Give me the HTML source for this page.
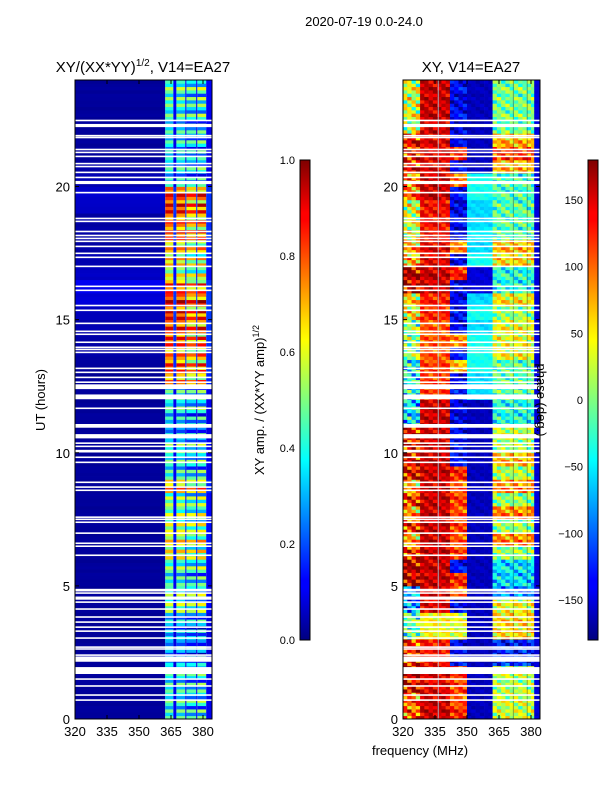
<!DOCTYPE html>
<html><head><meta charset="utf-8"><style>
html,body{margin:0;padding:0;background:#fff;}
svg{display:block;font-family:"Liberation Sans","DejaVu Sans",sans-serif;}
</style></head><body>
<svg id="fig" width="600" height="800" viewBox="0 0 600 800" xmlns="http://www.w3.org/2000/svg">
<defs>
<linearGradient id="jetg" x1="0" y1="1" x2="0" y2="0">
<stop offset="0" stop-color="#00007f"/><stop offset="0.11" stop-color="#0000ff"/><stop offset="0.125" stop-color="#0000ff"/>
<stop offset="0.34" stop-color="#00dcff"/><stop offset="0.375" stop-color="#00ffff"/><stop offset="0.5" stop-color="#7fff7f"/>
<stop offset="0.625" stop-color="#ffff00"/><stop offset="0.66" stop-color="#ffe000"/><stop offset="0.875" stop-color="#ff0000"/>
<stop offset="0.89" stop-color="#ff0000"/><stop offset="1" stop-color="#7f0000"/>
</linearGradient>
</defs>
<text x="364" y="26" font-size="13" text-anchor="middle">2020-07-19 0.0-24.0</text>
<text x="143" y="72" font-size="15" text-anchor="middle">XY/(XX*YY)<tspan font-size="10" dy="-6">1/2</tspan><tspan dy="6">, V14=EA27</tspan></text>
<text x="471" y="72" font-size="15" text-anchor="middle">XY, V14=EA27</text>
<g id="leftPlot"></g>
<g id="rightPlot"></g>
<g id="axes"></g>
<text transform="translate(45,400) rotate(-90)" font-size="13" text-anchor="middle">UT (hours)</text>
<text x="420" y="755" font-size="13" text-anchor="middle">frequency (MHz)</text>
<rect x="300" y="160" width="10" height="480" fill="url(#jetg)" stroke="#000" stroke-width="1"/>
<rect x="588" y="160" width="10" height="480" fill="url(#jetg)" stroke="#000" stroke-width="1"/>
<text transform="translate(264,400) rotate(-90)" font-size="13" text-anchor="middle">XY amp. / (XX*YY amp)<tspan font-size="9" dy="-5">1/2</tspan></text>
<text transform="translate(537,400) rotate(90)" font-size="13" text-anchor="middle">phase (deg.)</text>
</svg>
<script>
// ---- data ----
const flagHours=[22.48,22.29,21.91,21.84,21.39,21.28,21.13,20.86,20.75,20.53,20.34,20.15,19.77,18.80,18.69,18.31,18.16,18.05,17.94,17.75,17.49,17.34,17.00,16.25,16.10,15.53,15.35,14.86,14.56,14.45,14.15,13.96,13.88,13.77,13.17,13.02,12.83,12.65,12.48,12.10,11.67,11.01,10.62,10.36,10.24,10.06,9.83,9.64,8.89,8.71,8.59,7.58,7.50,7.39,6.98,6.60,6.49,6.15,4.84,4.73,4.54,4.39,4.13,3.83,3.64,3.45,3.30,3.04,2.70,2.63,2.40,2.25,1.82,1.50,1.24,0.90,0.71];
const flagWidths=[0.06,0.12,0.06,0.06,0.06,0.06,0.06,0.06,0.06,0.06,0.06,0.12,0.06,0.06,0.06,0.06,0.06,0.06,0.06,0.06,0.06,0.06,0.06,0.06,0.06,0.06,0.06,0.06,0.06,0.06,0.06,0.06,0.06,0.06,0.06,0.06,0.06,0.06,0.18,0.18,0.06,0.14,0.16,0.06,0.06,0.1,0.06,0.06,0.06,0.06,0.06,0.06,0.06,0.06,0.06,0.06,0.06,0.06,0.1,0.06,0.12,0.06,0.06,0.06,0.06,0.06,0.06,0.06,0.06,0.06,0.06,0.2,0.26,0.06,0.06,0.06,0.06];
// amplitude per 0.5h from 0h upward (48 values)
const ampHigh=[0.4,0.4,0.4,0.35,0.3,0.3,0.3,0.3,0.5,0.45,0.4,0.45,0.6,0.6,0.55,0.5,0.5,0.7,0.4,0.4,0.45,0.3,0.35,0.4,0.4,0.7,0.8,0.7,0.8,0.8,0.85,0.85,0.8,0.55,0.65,0.65,0.8,0.75,0.85,0.8,0.35,0.35,0.35,0.35,0.4,0.4,0.45,0.45];
const ampLow=[0.02,0.02,0.02,0.02,0.02,0.02,0.02,0.02,0.02,0.02,0.02,0.02,0.02,0.02,0.02,0.02,0.02,0.02,0.02,0.02,0.02,0.02,0.02,0.02,0.02,0.02,0.02,0.03,0.03,0.04,0.05,0.08,0.1,0.06,0.04,0.03,0.03,0.03,0.06,0.07,0.04,0.03,0.02,0.02,0.02,0.02,0.02,0.02];
const bandGain=[1.0,0.97,0.85,0.9];
const rowTexture=[0.08,-0.06,0.1,-0.12,0.03,0.12,-0.08,0.0];
const chanTexture=[0.5,-1,0.3,1,-0.6,0.2,-0.2,0.8];
// phase (deg) per 0.5h from 0h upward
const phaseLowA=[90,90,140,140,120,120,-20,-20,-100,-100,150,150,110,60,110,60,110,60,130,130,130,130,-60,-60,-50,-50,-50,-10,-10,-10,40,40,150,150,60,60,20,20,20,80,80,120,120,120,20,20,20,20];
const phaseLowB=[150,150,140,140,130,130,40,40,140,140,150,150,150,150,150,150,150,150,150,150,150,150,150,150,110,110,110,100,100,100,120,120,150,150,140,140,130,130,130,150,150,140,140,140,150,150,150,150];
const phaseLowC=[120,100,110,110,-140,-140,30,30,-150,90,120,-140,110,100,110,100,110,100,120,-140,-140,-140,-150,-150,-140,-150,60,-140,80,-150,-140,-150,-150,120,-150,80,-150,-140,-150,-140,90,-150,120,-150,-150,-140,-150,-140];
const phaseMid=[-160,-160,-160,-160,-160,-160,-160,-160,-160,-160,-160,-160,-160,-160,-160,-160,-160,-160,-160,-160,-160,-160,-160,-160,-60,-60,-40,-40,-40,-60,-40,-60,-150,-150,-40,-60,-50,-60,-60,-40,-40,-160,-160,-160,-160,-160,-160,-160];
const phaseHigh=[20,20,10,10,-130,-130,50,50,30,-100,-60,-60,0,80,0,80,0,80,10,60,10,20,-40,-40,-20,-20,-20,30,30,30,0,40,-40,-40,50,60,-20,-20,-20,-30,-30,60,110,60,-10,-10,-10,-10];
// ---- scales ----
const X0L=75,X0R=403,PXMHZ=(203-75)/60,F0=320,F1=384.2;
const YB=719,PXH=(719-80)/24;
function yOf(h){return YB-h*PXH;}
function xOf(base,f){return base+(f-F0)*PXMHZ;}
function clamp(v){return Math.max(0,Math.min(1,v));}
function jet(t){t=clamp(t);const r=clamp(1.5-Math.abs(4*t-3)),g=clamp(1.5-Math.abs(4*t-2)),b=clamp(1.5-Math.abs(4*t-1));return `rgb(${Math.round(r*255)},${Math.round(g*255)},${Math.round(b*255)})`;}
function phaseT(p){return (p+180)/360;}
const NS='http://www.w3.org/2000/svg';
function mk(tag,attrs,parent){const e=document.createElementNS(NS,tag);for(const k in attrs)e.setAttribute(k,attrs[k]);parent.appendChild(e);return e;}
const L=document.getElementById('leftPlot'),R=document.getElementById('rightPlot'),A=document.getElementById('axes');
const ROWH=0.125;
const leftBands=[[362.3,366.1],[367.5,371.7],[372.2,376.8],[377.3,381.5]];
const leftGaps=[[366.1,367.5],[371.7,372.2],[376.8,377.3],[381.5,F1]];
for(let r=0;r<192;r++){
  const h=r*ROWH,s=Math.floor(r/4),tx=rowTexture[r%8];
  const y=yOf(h+ROWH),hh=ROWH*PXH+0.4;
  let c=mk('rect',{x:xOf(X0L,F0),y:y,width:(362.3-F0)*PXMHZ,height:hh,fill:jet(ampLow[s]+Math.abs(tx)*0.1)},L);
  
  
  leftBands.forEach((b,i)=>{
    const v=ampHigh[s]*bandGain[i]+tx*(1+i*0.3);
    const e=mk('rect',{x:xOf(X0L,b[0]),y:y,width:(b[1]-b[0])*PXMHZ,height:hh,fill:jet(v)},L);
    
    
  });
  leftGaps.forEach(g=>{
    const e=mk('rect',{x:xOf(X0L,g[0]),y:y,width:(g[1]-g[0])*PXMHZ,height:hh,fill:jet(0.05+ampHigh[s]*0.15)},L);
    
    
  });
  const segs=[[F0,328,phaseLowA[s],60],[328,342,phaseLowB[s],25],[342,350,phaseLowC[s],30],[350,362,phaseMid[s],8],[362,381.5,phaseHigh[s],40],[381.5,F1,-150,5]];
  segs.forEach(sg=>{
    for(let f=sg[0],k=0;f<sg[1]-0.01;f+=2,k++){
      const f2=Math.min(sg[1],f+2);
      const ct=chanTexture[(k+r)%8];
      const e=mk('rect',{x:xOf(X0R,f),y:y,width:(f2-f)*PXMHZ+0.3,height:hh,fill:jet(phaseT(sg[2]+tx*sg[3]*3+ct*sg[3]))},R);
      
      
    }
  });
}
mk('rect',{x:xOf(X0R,336.3),y:80,width:1,height:639,fill:'#9fe8ff',opacity:0.7},R);
[371.5,378].forEach(f=>mk('rect',{x:xOf(X0R,f),y:80,width:1,height:639,fill:'#003',opacity:0.35},R));
flagHours.forEach((fh,i)=>{
  const w=flagWidths[i]*PXH;
  [X0L,X0R].forEach(x0=>{
    const e=mk('rect',{x:x0,y:yOf(fh)-w/2,width:137,height:w,fill:'#fff'},x0===X0L?L:R);
    
    
  });
});
const yTicks=[0,5,10,15,20],xTicks=[320,335,350,365,380];
[X0L,X0R].forEach((x0,pi)=>{
  const f=mk('rect',{x:x0,y:80,width:137,height:639,fill:'none',stroke:'#000','stroke-width':1},A);
  
  
  yTicks.forEach(t=>{
    const y=yOf(t);
    mk('line',{x1:x0,x2:x0+4,y1:y,y2:y,stroke:'#000'},A);
    mk('line',{x1:x0+133,x2:x0+137,y1:y,y2:y,stroke:'#000'},A);
    const tl=mk('text',{x:x0-5,y:y+5,'font-size':13,'text-anchor':'end'},A);tl.textContent=t;
    
    
  });
  xTicks.forEach(t=>{
    const x=xOf(x0,t);
    mk('line',{x1:x,x2:x,y1:719,y2:715,stroke:'#000'},A);
    mk('line',{x1:x,x2:x,y1:80,y2:84,stroke:'#000'},A);
    const tl=mk('text',{x:x,y:736,'font-size':13,'text-anchor':'middle'},A);tl.textContent=t;
    
    
  });
});
const ampTicks=[0,0.2,0.4,0.6,0.8,1.0];
ampTicks.forEach(t=>{
  const y=640-t*480;
  mk('line',{x1:300,x2:304,y1:y,y2:y,stroke:'#000'},A);
  const tl=mk('text',{x:295,y:y+4,'font-size':11,'text-anchor':'end'},A);tl.textContent=t.toFixed(1);
  
  
});
const phTicks=[-150,-100,-50,0,50,100,150];
phTicks.forEach(t=>{
  const y=640-phaseT(t)*480;
  mk('line',{x1:588,x2:592,y1:y,y2:y,stroke:'#000'},A);
  const tl=mk('text',{x:583,y:y+4,'font-size':11,'text-anchor':'end'},A);tl.textContent=t<0?'\u2212'+(-t):t;
  
  
});
</script>
</body></html>
